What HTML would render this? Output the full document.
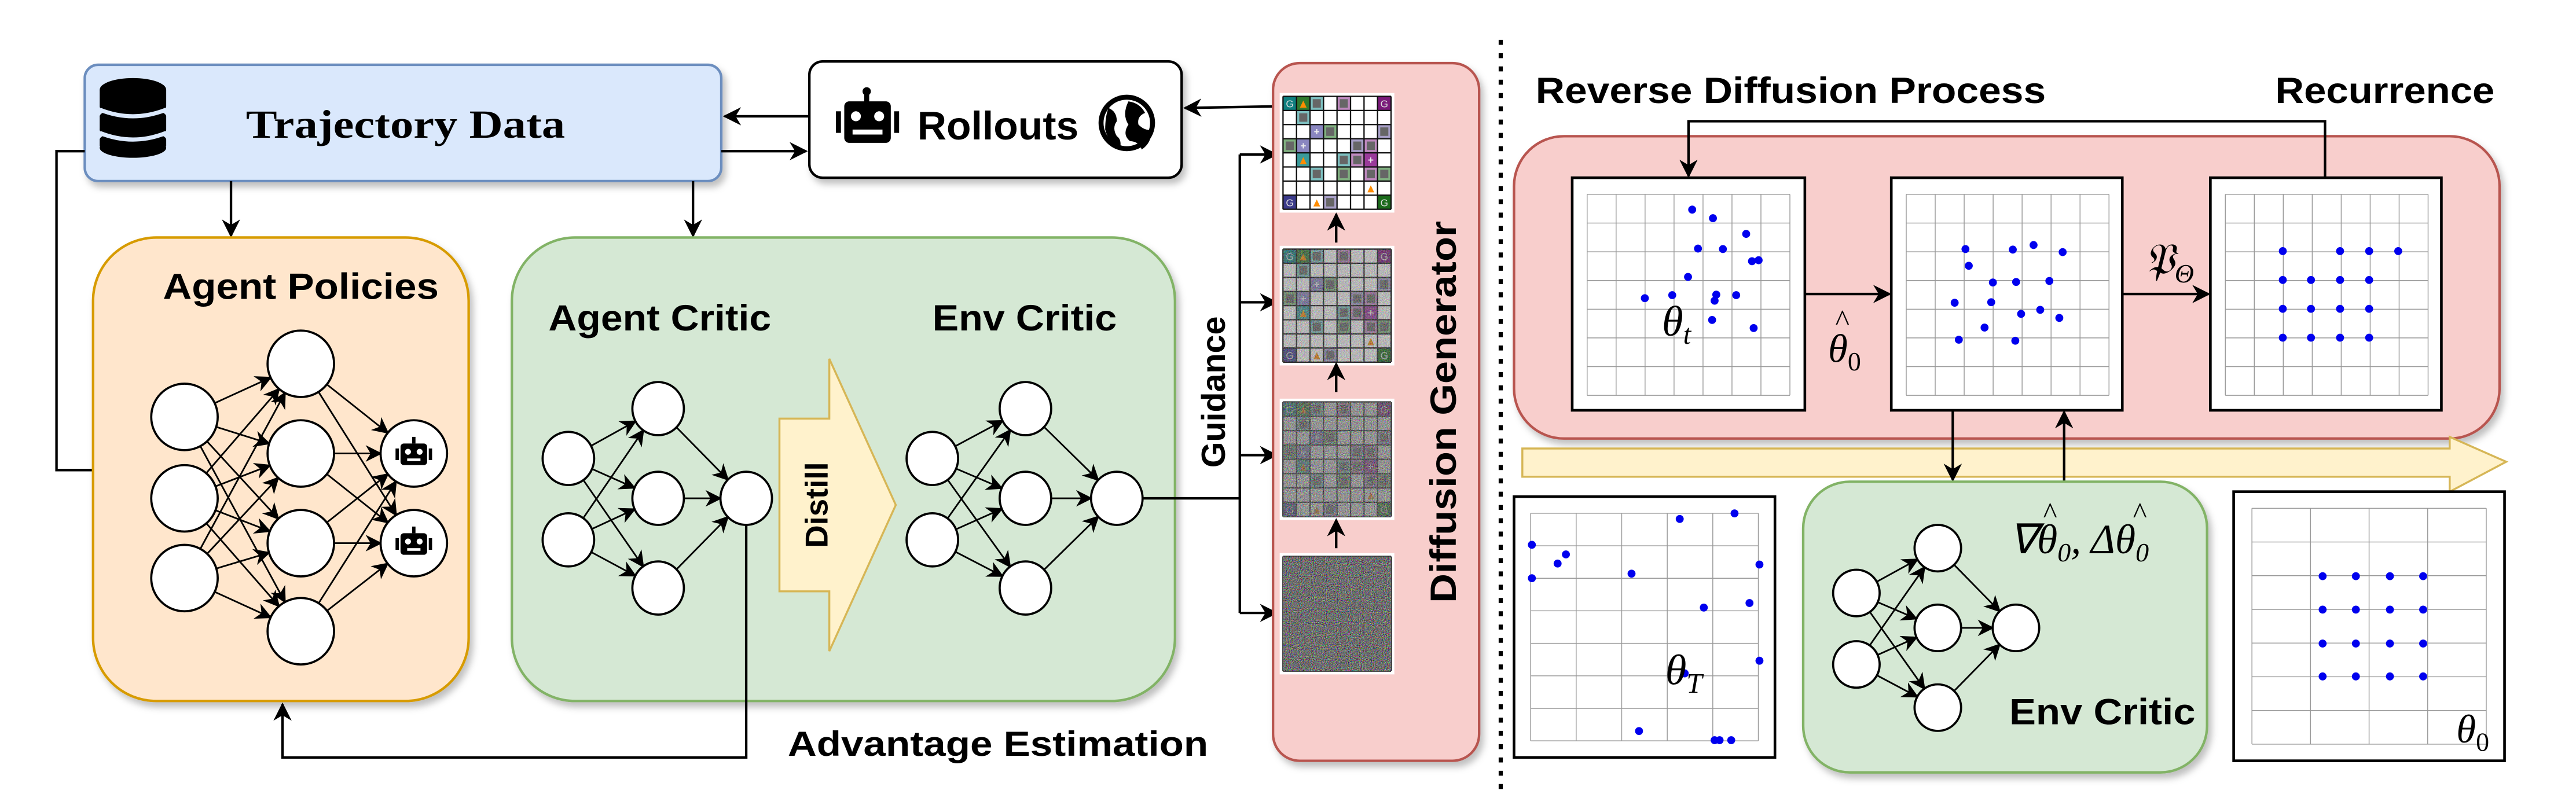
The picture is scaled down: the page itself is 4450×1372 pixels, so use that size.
<!DOCTYPE html>
<html><head><meta charset="utf-8"><style>
html,body{margin:0;padding:0;background:#fff;}
svg{display:block;}
text{font-family:"Liberation Sans",sans-serif;font-weight:bold;fill:#000;}
.serif{font-family:"Liberation Serif",serif;}
.math{font-family:"Liberation Serif",serif;font-style:italic;font-weight:normal;}
</style></head><body>
<svg id="s" width="4450" height="1372" viewBox="0 0 1550 478" preserveAspectRatio="none" xmlns="http://www.w3.org/2000/svg">
<defs>
<marker id="ar" viewBox="0 0 10 10" refX="9" refY="5" markerWidth="10" markerHeight="10" markerUnits="userSpaceOnUse" orient="auto"><path d="M0,0 L10,5 L0,10 L3,5 Z" fill="#000"/></marker>
<marker id="arb" viewBox="0 0 10 10" refX="9" refY="5" markerWidth="11" markerHeight="11" markerUnits="userSpaceOnUse" orient="auto"><path d="M0,0 L10,5 L0,10 L3,5 Z" fill="#000"/></marker>
<filter id="sh" x="-10%" y="-10%" width="130%" height="130%"><feDropShadow dx="2" dy="3" stdDeviation="2" flood-color="#000" flood-opacity="0.25"/></filter>
<filter id="noise" x="0" y="0" width="100%" height="100%" color-interpolation-filters="sRGB"><feTurbulence type="fractalNoise" baseFrequency="1.8" numOctaves="2" seed="3"/><feColorMatrix type="matrix" values="1.4 0 0 0 -0.27  0 1.4 0 0 -0.27  0 0 1.4 0 -0.27  0 0 0 0 1"/></filter>
</defs>

<!-- Trajectory Data -->
<rect x="51" y="39" width="383" height="70" rx="8" fill="#dae8fc" stroke="#6c8ebf" stroke-width="1.5" filter="url(#sh)"/>
<g fill="#000">
<ellipse cx="80" cy="54" rx="20" ry="7"/>
<rect x="60" y="54" width="40" height="10"/><ellipse cx="80" cy="64" rx="20" ry="7"/>
<rect x="60" y="70" width="40" height="8"/><ellipse cx="80" cy="70" rx="20" ry="5"/><ellipse cx="80" cy="78" rx="20" ry="7"/>
<rect x="60" y="84" width="40" height="4"/><ellipse cx="80" cy="84" rx="20" ry="5"/><ellipse cx="80" cy="89" rx="20" ry="6"/>
</g>
<path d="M60,66 Q80,74 100,66 M60,80 Q80,88 100,80" stroke="#dae8fc" stroke-width="2.5" fill="none"/>
<text x="148" y="83" class="serif" font-size="24" textLength="192" lengthAdjust="spacingAndGlyphs">Trajectory Data</text>

<!-- Rollouts -->
<rect x="487" y="37" width="224" height="70" rx="8" fill="#fff" stroke="#000" stroke-width="1.5" filter="url(#sh)"/>
<g fill="#000">
<rect x="508" y="61" width="28" height="25" rx="3"/><rect x="503" y="67" width="3" height="13"/><rect x="538" y="67" width="3" height="13"/>
<rect x="520" y="55" width="3" height="7"/><circle cx="521.5" cy="55" r="2.5"/>
</g>
<circle cx="515" cy="70" r="3" fill="#fff"/><circle cx="529" cy="70" r="3" fill="#fff"/>
<rect x="513" y="78" width="18" height="3" fill="#fff"/>
<text x="552" y="84" font-size="24" textLength="97" lengthAdjust="spacingAndGlyphs">Rollouts</text>
<circle cx="678" cy="74" r="17" fill="#000"/>
<circle cx="678" cy="74" r="14" fill="#fff"/>
<path d="M667,65 q5,2 5,8 q-3,4 0,9 q3,2 2,7 q-7,-3 -9,-11 q0,-8 2,-13Z M679,61 q7,1 10,7 q-5,2 -4,7 q4,4 8,3 q0,8 -6,12 q-2,-5 -7,-5 q-5,-4 -1,-10 q-4,-6 0,-14Z" fill="#000"/>

<!-- arrows top -->
<g stroke="#000" stroke-width="1.5" fill="none">
<path d="M487,70 L436,70" marker-end="url(#arb)"/>
<path d="M434,91 L485,91" marker-end="url(#arb)"/>
<path d="M769,64 L713,65" marker-end="url(#arb)"/>
<path d="M51,91 L34,91 L34,283 L56,283"/>
<path d="M139,109 L139,142" marker-end="url(#arb)"/>
<path d="M417,109 L417,142" marker-end="url(#arb)"/>
</g>

<!-- Agent policies -->
<rect x="56" y="143" width="226" height="279" rx="38" fill="#ffe6cc" stroke="#d79b00" stroke-width="1.5" filter="url(#sh)"/>
<text x="98" y="180" font-size="22" textLength="166" lengthAdjust="spacingAndGlyphs">Agent Policies</text>
<!-- green -->
<rect x="308" y="143" width="399" height="279" rx="38" fill="#d5e8d4" stroke="#82b366" stroke-width="1.5" filter="url(#sh)"/>
<text x="330" y="199" font-size="22" textLength="134" lengthAdjust="spacingAndGlyphs">Agent Critic</text>
<text x="561" y="199" font-size="22" textLength="111" lengthAdjust="spacingAndGlyphs">Env Critic</text>
<!-- Distill arrow -->
<path d="M469,252 L499,252 L499,216 L539,304 L499,392 L499,356 L469,356 Z" fill="#fff2cc" stroke="#d6b656" stroke-width="1.2"/>
<text transform="translate(498,304) rotate(-90)" text-anchor="middle" font-size="19">Distill</text>

<!-- guidance & advantage -->
<g stroke="#000" stroke-width="1.5" fill="none">
<path d="M688,300 L746,300"/>
<path d="M746,93 L746,369"/>
<path d="M746,93 L768,93" marker-end="url(#arb)"/>
<path d="M746,182 L768,182" marker-end="url(#arb)"/>
<path d="M746,274 L768,274" marker-end="url(#arb)"/>
<path d="M746,369 L768,369" marker-end="url(#arb)"/>
<path d="M449,316 L449,456 L170,456 L170,424" marker-end="url(#arb)"/>
</g>
<text transform="translate(737,236) rotate(-90)" text-anchor="middle" font-size="20">Guidance</text>
<text x="474" y="455" font-size="21" textLength="253" lengthAdjust="spacingAndGlyphs">Advantage Estimation</text>

<!-- Diffusion generator -->
<rect x="766" y="38" width="124" height="420" rx="16" fill="#f8cecc" stroke="#b85450" stroke-width="1.5" filter="url(#sh)"/>
<text transform="translate(876,248) rotate(-90)" text-anchor="middle" font-size="22" textLength="230" lengthAdjust="spacingAndGlyphs">Diffusion Generator</text>
<g id="imgs"></g>
<g stroke="#000" stroke-width="1.5" fill="none">
<path d="M804,146 L804,129" marker-end="url(#arb)"/>
<path d="M804,236 L804,219" marker-end="url(#arb)"/>
<path d="M804,330 L804,313" marker-end="url(#arb)"/>
</g>

<!-- dotted separator -->
<line x1="903" y1="24" x2="903" y2="478" stroke="#000" stroke-width="2.5" stroke-dasharray="3,5"/>

<!-- right side -->
<text x="924" y="62" font-size="22" textLength="307" lengthAdjust="spacingAndGlyphs">Reverse Diffusion Process</text>
<text x="1369" y="62" font-size="22" textLength="132" lengthAdjust="spacingAndGlyphs">Recurrence</text>
<rect x="911" y="82" width="593" height="182" rx="30" fill="#f8cecc" stroke="#b85450" stroke-width="1.5" filter="url(#sh)"/>
<path d="M916,270 L1474,270 L1474,263 L1508,278 L1474,296 L1474,287 L916,287 Z" fill="#fff2cc" stroke="#d6b656" stroke-width="1.2"/>
<g stroke="#000" stroke-width="1.5" fill="none">
<path d="M1399,107 L1399,73 L1016,73 L1016,106" marker-end="url(#arb)"/>
<path d="M1086,177 L1137,177" marker-end="url(#arb)"/>
<path d="M1277,177 L1329,177" marker-end="url(#arb)"/>
<path d="M1175,247 L1175,289" marker-end="url(#arb)"/>
<path d="M1242,290 L1242,248" marker-end="url(#arb)"/>
</g>
<rect x="1085" y="290" width="243" height="175" rx="28" fill="#d5e8d4" stroke="#82b366" stroke-width="1.5" filter="url(#sh)"/>
<g id="panels"></g>
<g id="nets"></g>
<text x="1000" y="202" class="math" font-size="26">θ<tspan font-size="17" dy="5">t</tspan></text>
<text x="1100" y="218" class="math" font-size="24">θ<tspan font-size="16" dy="5" font-style="normal">0</tspan></text>
<text x="1104" y="199" class="math" font-size="18" font-style="normal">^</text>
<text x="1290" y="165" class="math" font-size="26" font-style="normal">𝔓<tspan font-size="16" dy="5">Θ</tspan></text>
<text x="1002" y="412" class="math" font-size="26">θ<tspan font-size="17" dy="5">T</tspan></text>
<text x="1478" y="447" class="math" font-size="24">θ<tspan font-size="16" dy="5" font-style="normal">0</tspan></text>
<text x="1209" y="333" class="math" font-size="25" font-style="normal">∇<tspan font-style="italic">θ</tspan><tspan font-size="16" dy="5">0</tspan><tspan dy="-5">, Δ</tspan><tspan font-style="italic">θ</tspan><tspan font-size="16" dy="5">0</tspan></text>
<text x="1229" y="315" class="math" font-size="18" font-style="normal">^</text>
<text x="1283" y="315" class="math" font-size="18" font-style="normal">^</text>
<text x="1209" y="436" font-size="22" textLength="112" lengthAdjust="spacingAndGlyphs">Env Critic</text>
</svg>
<script>
var NS="http://www.w3.org/2000/svg";
function el(p,t,a){var e=document.createElementNS(NS,t);for(var k in a)e.setAttribute(k,a[k]);p.appendChild(e);return e;}
var N=document.getElementById('nets');
function net(layers,rx,ry){
 var g=el(N,'g',{});
 for(var l=0;l<layers.length-1;l++){
  layers[l].forEach(function(a){layers[l+1].forEach(function(b){
   var dx=b[0]-a[0],dy=b[1]-a[1],d=Math.hypot(dx,dy);
   var ux=dx/d,uy=dy/d;
   var s=1/Math.sqrt((ux*ux)/(rx*rx)+(uy*uy)/(ry*ry));
   el(g,'line',{x1:a[0]+ux*s,y1:a[1]+uy*s,x2:b[0]-ux*s,y2:b[1]-uy*s,stroke:'#000','stroke-width':1,'marker-end':'url(#ar)'});
  });});
 }
 layers.forEach(function(L){L.forEach(function(p){
  el(g,'ellipse',{cx:p[0],cy:p[1],rx:rx,ry:ry,fill:'#fff',stroke:'#000','stroke-width':1.3});
 });});
}
net([[[111,251],[111,300],[111,348]],[[181,219],[181,273],[181,327],[181,380]],[[249,273],[249,327]]],20,20);
[[249,273],[249,327]].forEach(function(p){
 var x=p[0],y=p[1];
 el(N,'rect',{x:x-8,y:y-6,width:16,height:13,rx:2,fill:'#000'});
 el(N,'rect',{x:x-11,y:y-3,width:2,height:7,fill:'#000'});
 el(N,'rect',{x:x+9,y:y-3,width:2,height:7,fill:'#000'});
 el(N,'rect',{x:x-1,y:y-10,width:2,height:4,fill:'#000'});
 el(N,'circle',{cx:x-3.5,cy:y-1,r:1.8,fill:'#fff'});
 el(N,'circle',{cx:x+3.5,cy:y-1,r:1.8,fill:'#fff'});
 el(N,'rect',{x:x-4,y:y+3,width:8,height:1.6,fill:'#fff'});
});
net([[[342,276],[342,325]],[[396,246],[396,300],[396,354]],[[449,300]]],15.5,16);
net([[[561,276],[561,325]],[[617,246],[617,300],[617,354]],[[672,300]]],15.5,16);
net([[[1117,357],[1117,400]],[[1166,330],[1166,378],[1166,426]],[[1213,378]]],14,14);

var P=document.getElementById('panels');
function X(z){return 766.3+z*0.4998;} function Y(z){return z*0.3048;}
function panel(x,y,w,h,ix0,iy0,ix1,iy1,cols,rows,dots){
 el(P,'rect',{x:x,y:y,width:w,height:h,fill:'#fff',stroke:'#000','stroke-width':1.6});
 for(var i=0;i<=cols;i++){var xx=ix0+(ix1-ix0)*i/cols;el(P,'line',{x1:xx,y1:iy0,x2:xx,y2:iy1,stroke:'#999','stroke-width':0.5});}
 for(var j=0;j<=rows;j++){var yy=iy0+(iy1-iy0)*j/rows;el(P,'line',{x1:ix0,y1:yy,x2:ix1,y2:yy,stroke:'#999','stroke-width':0.5});}
 dots.forEach(function(d){el(P,'circle',{cx:X(d[0]),cy:Y(d[1]),r:2.4,fill:'#0000ee'});});
}
panel(946,107,140,140,955,117,1077,238,7,7,[[504,414],[529,431],[569,462],[511,491],[541,492],[576,516],[584,514],[499,547],[447,589],[480,583],[533,582],[531,594],[557,583],[528,632],[578,648]]);
panel(1138,107,139,140,1147,117,1269,238,7,7,[[833,492],[890,493],[915,484],[950,498],[837,525],[866,558],[894,557],[934,555],[820,598],[864,597],[900,620],[923,612],[946,628],[856,647],[825,671],[893,673]]);
var d3=[[1215,496],[1284,496],[1319,496],[1354,496]];
[553,610,667].forEach(function(y){[1215,1249,1284,1319].forEach(function(x){d3.push([x,y]);});});
panel(1330,107,139,140,1339,117,1461,238,7,7,d3);
panel(911,299,157,157,921,309,1058,446,5,7,[[311,1076],[311,1142],[342,1113],[352,1095],[489,1025],[555,1014],[431,1133],[585,1115],[518,1200],[573,1191],[495,1330],[585,1305],[440,1444],[531,1462],[537,1462],[551,1462]]);
var d4=[];[1138,1204,1271,1336].forEach(function(y){[1263,1303,1344,1384].forEach(function(x){d4.push([x,y]);});});
panel(1344,296,163,162,1355,306,1496,448,4,7,d4);

var I=document.getElementById('imgs');
var cells=[[0,0,'G','#0f7f7f'],[0,1,'L','#2f7a2f'],[0,2,'B','#7ec0c0'],[0,4,'B','#c08ac0'],[0,7,'G','#7a1a7a'],
[1,1,'B','#7ec0c0'],[2,2,'P','#8a86c0'],[2,3,'B','#80b080'],[2,7,'B','#a8a0c8'],
[3,0,'B','#80b080'],[3,1,'P','#8a86c0'],[3,5,'B','#a8a0c8'],[3,6,'B','#c08ac0'],
[4,1,'L','#3a9a9a'],[4,4,'B','#7ec0c0'],[4,5,'B','#c08ac0'],[4,6,'P','#9a3a9a'],
[5,2,'B','#7ec0c0'],[5,4,'B','#80b080'],[5,6,'B','#c08ac0'],[5,7,'B','#80b080'],
[6,6,'l',null],[7,0,'G','#3a3a8a'],[7,2,'l',null],[7,3,'B','#a8a0c8'],[7,7,'G','#1a6a1a']];
function mosaic(x,y,w,h,noise){
 el(I,'rect',{x:x-2,y:y-2,width:w+4,height:h+4,fill:'#fff'});
 var g=el(I,'g',{});
 el(g,'rect',{x:x,y:y,width:w,height:h,fill:'#fff'});
 var cw=w/8,ch=h/8;
 cells.forEach(function(c){
  var cx=x+c[1]*cw,cy=y+c[0]*ch;
  if(c[3]){el(g,'rect',{x:cx,y:cy,width:cw,height:ch,fill:c[3]});}
  if(c[2]=='B'){el(g,'rect',{x:cx+cw*0.2,y:cy+ch*0.2,width:cw*0.6,height:ch*0.6,fill:'#666'});}
  if(c[2]=='L'||c[2]=='l'){el(g,'path',{d:'M'+(cx+cw*0.25)+','+(cy+ch*0.8)+' L'+(cx+cw*0.5)+','+(cy+ch*0.3)+' L'+(cx+cw*0.75)+','+(cy+ch*0.8)+'Z',fill:'#ff8c00'});}
  if(c[2]=='G'){var t=el(g,'text',{x:cx+cw/2,y:cy+ch*0.78,'text-anchor':'middle','font-size':6,style:'fill:#ddd;font-weight:normal'});t.textContent='G';}
  if(c[2]=='P'){var t2=el(g,'text',{x:cx+cw/2,y:cy+ch*0.75,'text-anchor':'middle','font-size':6,style:'fill:#eee'});t2.textContent='+';}
 });
 for(var i=0;i<=8;i++){el(g,'line',{x1:x+i*cw,y1:y,x2:x+i*cw,y2:y+h,stroke:'#111','stroke-width':0.8});el(g,'line',{x1:x,y1:y+i*ch,x2:x+w,y2:y+i*ch,stroke:'#111','stroke-width':0.8});}
 if(noise>0){el(I,'rect',{x:x,y:y,width:w,height:h,filter:'url(#noise)',opacity:noise});}
}
mosaic(772,58,65,68,0);
mosaic(772,150,65,68,0.5);
mosaic(772,242,65,69,0.75);
mosaic(772,335,65,69,1);
</script>
</body></html>
